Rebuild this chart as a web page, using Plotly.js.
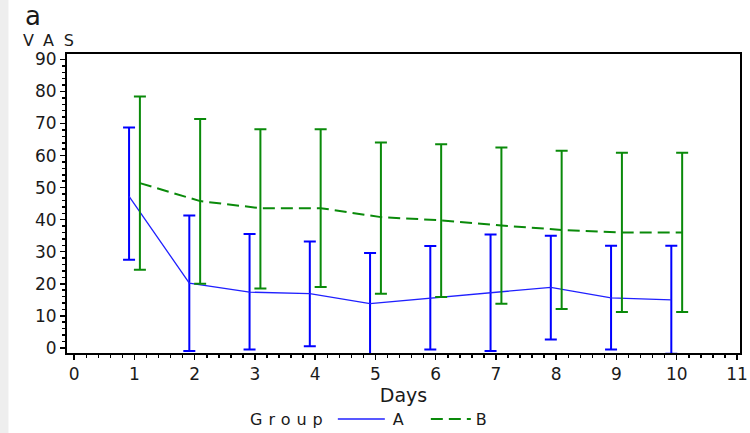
<!DOCTYPE html>
<html>
<head>
<meta charset="utf-8">
<script src="https://cdn.plot.ly/plotly-3.0.1.min.js"></script>
<style>html,body{margin:0;padding:0;background:#fff;}#chart{width:750px;height:433px;}</style>
</head>
<body>
<div id="chart"></div>
<script>
// Data
const days = [1, 2, 3, 4, 5, 6, 7, 8, 9, 10];
const meanA  = [47.3, 20.2, 17.4, 16.9, 13.8, 15.5, 17.1, 18.9, 15.6, 15.0];
const upperA = [68.8, 41.3, 35.5, 33.2, 29.6, 31.8, 35.4, 35.0, 31.9, 31.9];
const lowerA = [27.5, -1.0, -0.5, 0.5, -2.5, -0.5, -1.0, 2.6, -0.5, -1.8];
const meanB  = [51.4, 45.8, 43.6, 43.6, 40.8, 39.8, 38.2, 36.8, 36.0, 36.0];
const upperB = [78.4, 71.4, 68.2, 68.2, 64.1, 63.5, 62.5, 61.5, 60.9, 60.9];
const lowerB = [24.4, 20.0, 18.5, 19.0, 16.9, 15.9, 13.8, 12.1, 11.2, 11.2];
const xTicks = [0, 1, 2, 3, 4, 5, 6, 7, 8, 9, 10, 11];
const yTicks = [0, 10, 20, 30, 40, 50, 60, 70, 80, 90];

const off = 0.09;
const font = "DejaVu Sans, Liberation Sans, Arial, sans-serif";
const txt = '#1a1a1a';

const traceA = {
  name: 'A', type: 'scatter', mode: 'lines',
  x: days.map(d => d - off), y: meanA,
  line: {color: '#2020ff', width: 1.3},
  error_y: {type: 'data', symmetric: false,
    array: upperA.map((u, i) => u - meanA[i]),
    arrayminus: lowerA.map((l, i) => meanA[i] - l),
    color: '#0000ff', thickness: 2, width: 6}
};
const traceB = {
  name: 'B', type: 'scatter', mode: 'lines',
  x: days.map(d => d + off), y: meanB,
  line: {color: '#0a8a0a', width: 2, dash: '12px,6px'},
  error_y: {type: 'data', symmetric: false,
    array: upperB.map((u, i) => u - meanB[i]),
    arrayminus: lowerB.map((l, i) => meanB[i] - l),
    color: '#0a8a0a', thickness: 2, width: 6}
};

const layout = {
  width: 750, height: 433,
  margin: {l: 67, r: 10, t: 54, b: 80, autoexpand: false},
  paper_bgcolor: '#ffffff', plot_bgcolor: '#ffffff',
  font: {family: font, color: txt, size: 15},
  showlegend: true,
  legend: {orientation: 'h', x: 0.395, xanchor: 'left', y: -0.221, yanchor: 'middle',
    font: {size: 16, family: font, color: txt},
    entrywidth: 48, entrywidthmode: 'pixels',
    traceorder: 'normal', bgcolor: 'rgba(0,0,0,0)'},
  xaxis: {
    range: [-0.12, 11.05], tickvals: xTicks, ticktext: xTicks.map(String),
    ticks: 'outside', ticklen: 5, tickwidth: 1.5, tickcolor: '#000',
    minor: {dtick: 0.2, ticks: 'outside', ticklen: 3, tickwidth: 1.5, tickcolor: '#000'},
    showline: true, linecolor: '#000', linewidth: 2, mirror: true,
    showgrid: false, zeroline: false, automargin: false,
    tickfont: {size: 17, family: font, color: txt},
    title: {text: 'Days', font: {size: 19, family: font, color: txt}, standoff: 0}
  },
  yaxis: {
    range: [-1.6, 91.7], tickvals: yTicks, ticktext: yTicks.map(String),
    ticks: 'outside', ticklen: 5, tickwidth: 1.5, tickcolor: '#000',
    minor: {dtick: 2, ticks: 'outside', ticklen: 3, tickwidth: 1.5, tickcolor: '#000'},
    showline: true, linecolor: '#000', linewidth: 2, mirror: true,
    showgrid: false, zeroline: false, automargin: false,
    tickfont: {size: 17, family: font, color: txt}
  },
  shapes: [{type: 'rect', xref: 'paper', yref: 'paper', x0: -0.1, x1: -0.087, y0: -0.3, y1: 1.2,
    fillcolor: '#eeeeee', line: {width: 0}, layer: 'below'}],
  annotations: [
    {text: 'a', xref: 'paper', yref: 'paper', x: -0.065, y: 1.127, xanchor: 'left', yanchor: 'middle',
      showarrow: false, font: {size: 26, family: font, color: txt}},
    {text: 'VAS', xref: 'paper', yref: 'paper', x: -0.0455, y: 1.044, xanchor: 'left', yanchor: 'middle',
      showarrow: false, font: {size: 16, family: font, color: txt}},
    {text: 'Group', xref: 'paper', yref: 'paper', x: 0.291, y: -0.221, xanchor: 'left', yanchor: 'middle',
      showarrow: false, font: {size: 16, family: font, color: txt}}
  ]
};

Plotly.newPlot('chart', [traceA, traceB], layout, {displayModeBar: false, staticPlot: true}).then(function () {
  const ann = document.querySelectorAll('.annotation-text');
  if (ann[1]) ann[1].setAttribute('letter-spacing', '10px');
  if (ann[2]) ann[2].setAttribute('letter-spacing', '6px');
  const items = document.querySelectorAll('.legend .traces');
  items.forEach(function (g, i) {
    const p = g.querySelector('.legendlines path');
    if (p) p.setAttribute('d', i === 0 ? 'M5,0h47' : 'M5,0h40');
    const t = g.querySelector('.legendtext');
    if (t) t.setAttribute('x', i === 0 ? '60' : '50');
  });
});
</script>
</body>
</html>
